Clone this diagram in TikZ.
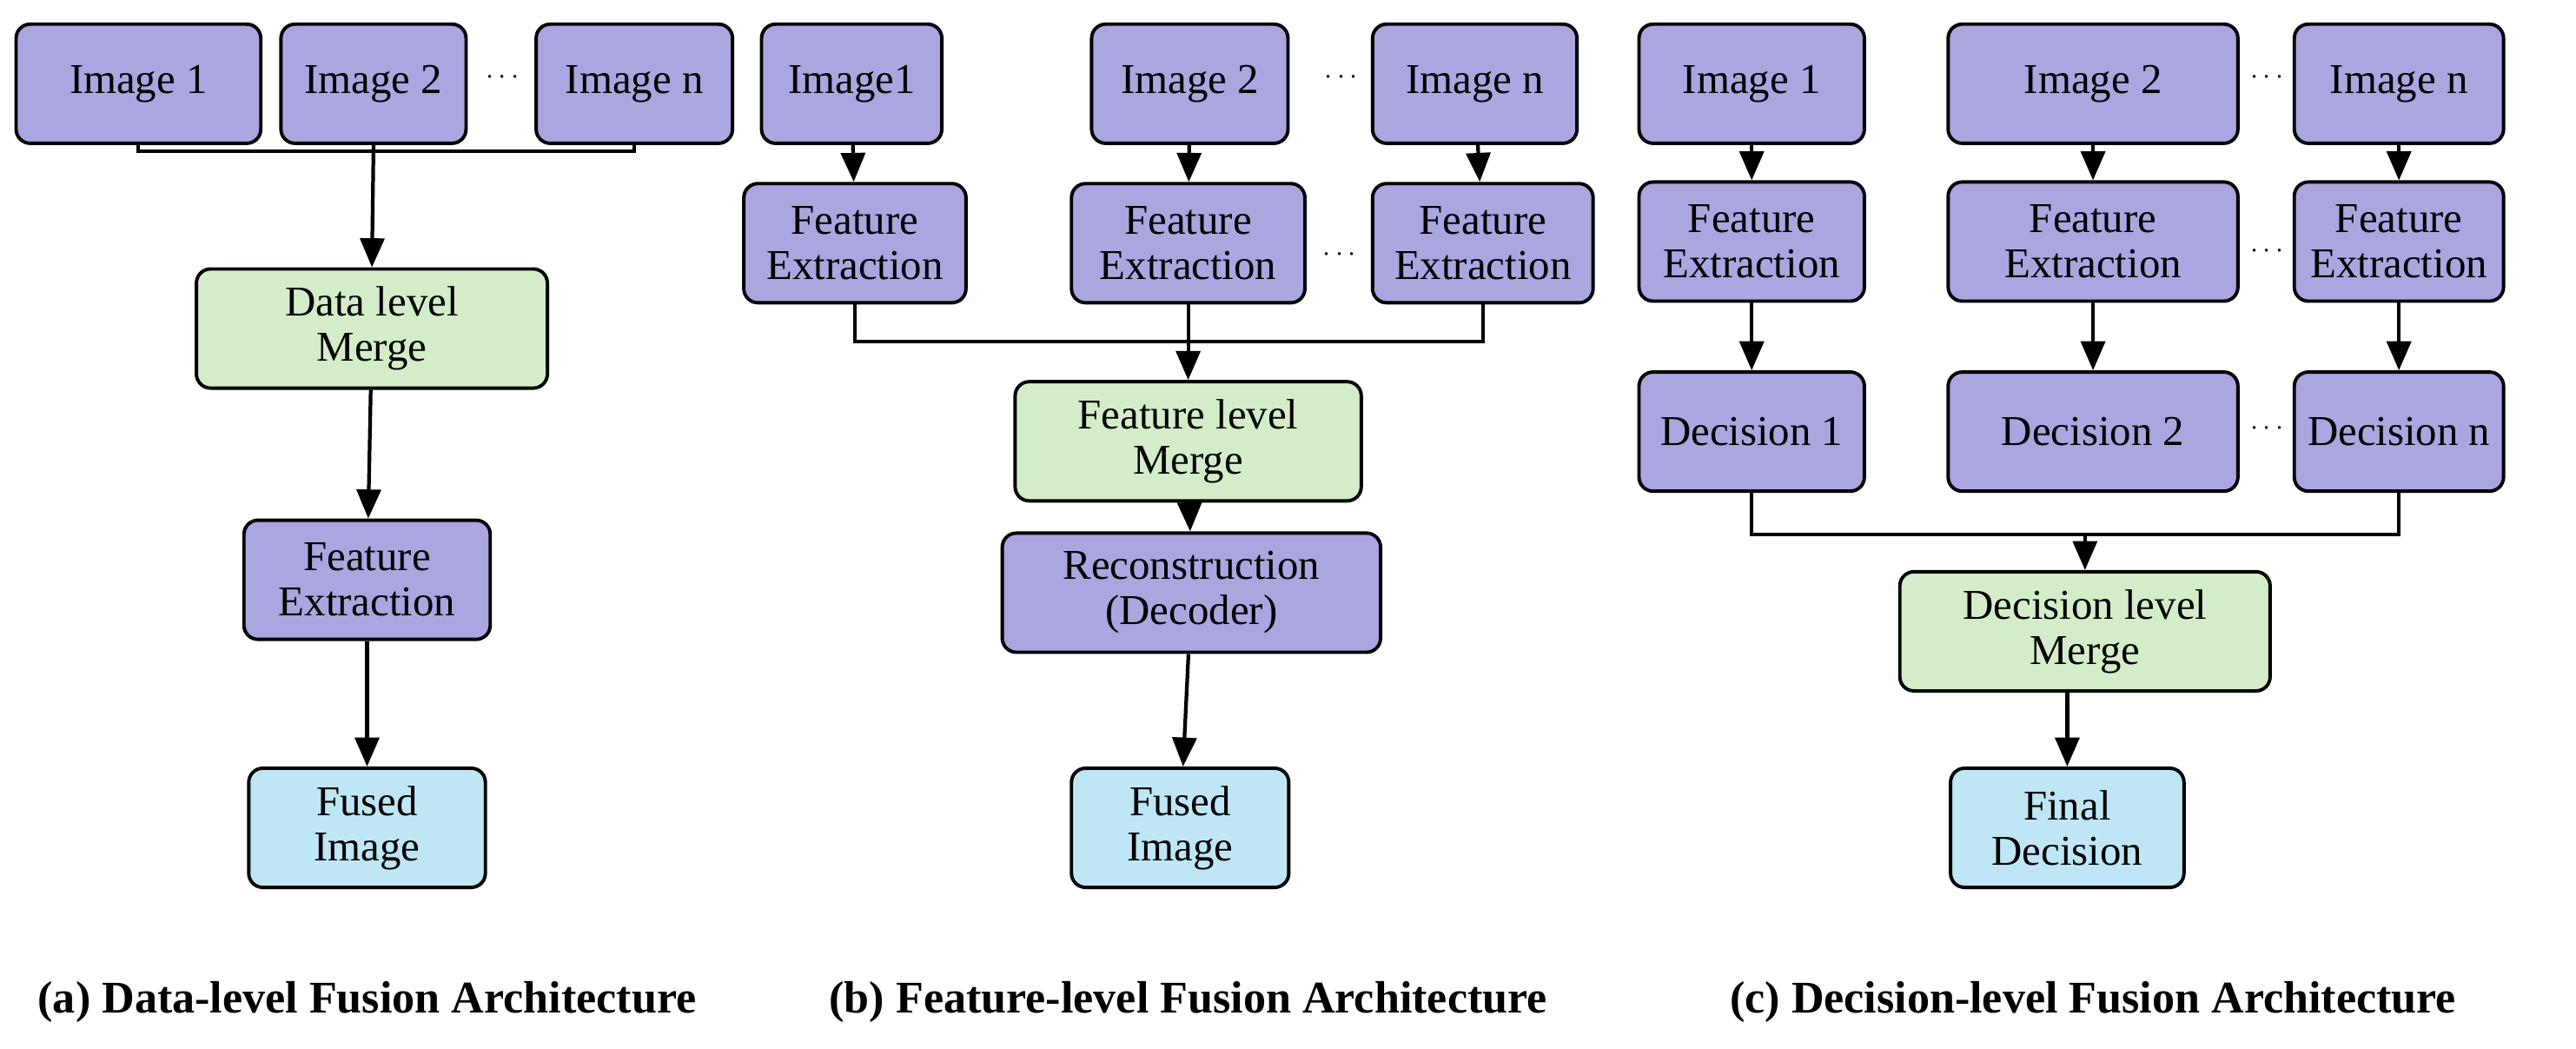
\documentclass[tikz,border=0pt]{standalone}
\usepackage{fontspec}
\setmainfont{Liberation Serif}
\usetikzlibrary{positioning,arrows.meta}
\definecolor{cpurple}{RGB}{169,166,224}
\definecolor{cgreen}{RGB}{211,237,201}
\definecolor{cblue}{RGB}{190,230,245}

\begin{document}
\begin{tikzpicture}[
    x=0.2mm, y=-0.2mm,
    >={Triangle[length=3.6mm,width=3mm]},
    box/.style={draw, rounded corners=5pt, line width=1.2pt, align=center,
                font=\fontsize{15}{16}\selectfont, inner sep=1pt, minimum height=1.48cm},
    pbox/.style={box, fill=cpurple},
    gbox/.style={box, fill=cgreen},
    bbox/.style={box, fill=cblue},
    arr/.style={->, line width=1.3pt},
    ln/.style={line width=1.3pt},
    captext/.style={font=\fontsize{16}{18}\selectfont\bfseries},
  ]
  \useasboundingbox (0,0) rectangle (1600,651);

  %% (a) Data-level
  \node[pbox, minimum width=3.04cm] (aimg1) at (86,52) {Image 1};
  \node[pbox, minimum width=2.3cm] (aimg2) at (232,52) {Image 2};
  \node[pbox, minimum width=2.44cm] (aimgn) at (394,52) {Image n};
  \node (adots) at (312,48) {$\cdots$};
  \node[gbox, minimum width=4.36cm] (amerge) at (231,204) {Data level\\Merge};
  \node[pbox, minimum width=3.06cm] (afeat) at (228,360) {Feature\\Extraction};
  \node[bbox, minimum width=2.94cm] (afused) at (228,514) {Fused\\Image};
  \coordinate (aj) at (232,94);
  \draw[ln] (aimg1.south) |- (aj) -| (aimgn.south);
  \draw[arr] (aimg2.south) -- (amerge.north);
  \draw[arr] (amerge) -- (afeat);
  \draw[arr] (afeat) -- (afused);
  \node[captext] (acap) at (228,622) {(a) Data-level Fusion Architecture};

  %% (b) Feature-level
  \node[pbox, minimum width=2.24cm] (bimg1) at (529,52) {Image1};
  \node[pbox, minimum width=2.44cm] (bimg2) at (739,52) {Image 2};
  \node[pbox, minimum width=2.54cm] (bimgn) at (916,52) {Image n};
  \node (bdots) at (833,48) {$\cdots$};
  \node[pbox, minimum width=2.76cm] (bfeat1) at (531,151) {Feature\\Extraction};
  \node[pbox, minimum width=2.9cm] (bfeat2) at (738,151) {Feature\\Extraction};
  \node[pbox, minimum width=2.74cm] (bfeatn) at (921,151) {Feature\\Extraction};
  \node (bdots2) at (832,158) {$\cdots$};
  \node[gbox, minimum width=4.3cm] (bmerge) at (738,274) {Feature level\\Merge};
  \node[pbox, minimum width=4.7cm] (brec) at (740,368) {Reconstruction\\(Decoder)};
  \node[bbox, minimum width=2.7cm] (bfused) at (733,514) {Fused\\Image};
  \coordinate (bj) at (738,212);
  \draw[arr] (bimg1) -- (bfeat1);
  \draw[arr] (bimg2) -- (bfeat2);
  \draw[arr] (bimgn) -- (bfeatn);
  \draw[ln] (bfeat1.south) |- (bj) -| (bfeatn.south);
  \draw[arr] (bfeat2.south) -- (bmerge.north);
  \draw[arr] (bmerge) -- (brec);
  \draw[arr] (brec) -- (bfused);
  \node[captext] (bcap) at (738,622) {(b) Feature-level Fusion Architecture};

  %% (c) Decision-level
  \node[pbox, minimum width=2.8cm] (cimg1) at (1088,52) {Image 1};
  \node[pbox, minimum width=3.6cm] (cimg2) at (1300,52) {Image 2};
  \node[pbox, minimum width=2.6cm] (cimgn) at (1490,52) {Image n};
  \node (cdots) at (1408,48) {$\cdots$};
  \node[pbox, minimum width=2.8cm] (cfeat1) at (1088,150) {Feature\\Extraction};
  \node[pbox, minimum width=3.6cm] (cfeat2) at (1300,150) {Feature\\Extraction};
  \node[pbox, minimum width=2.6cm] (cfeatn) at (1490,150) {Feature\\Extraction};
  \node (cdots2) at (1408,156) {$\cdots$};
  \node[pbox, minimum width=2.8cm] (cdec1) at (1088,268) {Decision 1};
  \node[pbox, minimum width=3.6cm] (cdec2) at (1300,268) {Decision 2};
  \node[pbox, minimum width=2.6cm] (cdecn) at (1490,268) {Decision n};
  \node (cdots3) at (1408,266) {$\cdots$};
  \node[gbox, minimum width=4.6cm] (cmerge) at (1295,392) {Decision level\\Merge};
  \node[bbox, minimum width=2.9cm] (cfinal) at (1284,514) {Final\\Decision};
  \coordinate (cj) at (1295,332);
  \draw[arr] (cimg1) -- (cfeat1);
  \draw[arr] (cimg2) -- (cfeat2);
  \draw[arr] (cimgn) -- (cfeatn);
  \draw[arr] (cfeat1) -- (cdec1);
  \draw[arr] (cfeat2) -- (cdec2);
  \draw[arr] (cfeatn) -- (cdecn);
  \draw[ln] (cdec1.south) |- (cj) -| (cdecn.south);
  \draw[arr] (cj) -- (cmerge.north);
  \draw[arr] (cmerge.south -| cfinal.north) -- (cfinal);
  \node[captext] (ccap) at (1300,622) {(c) Decision-level Fusion Architecture};

\end{tikzpicture}
\end{document}
